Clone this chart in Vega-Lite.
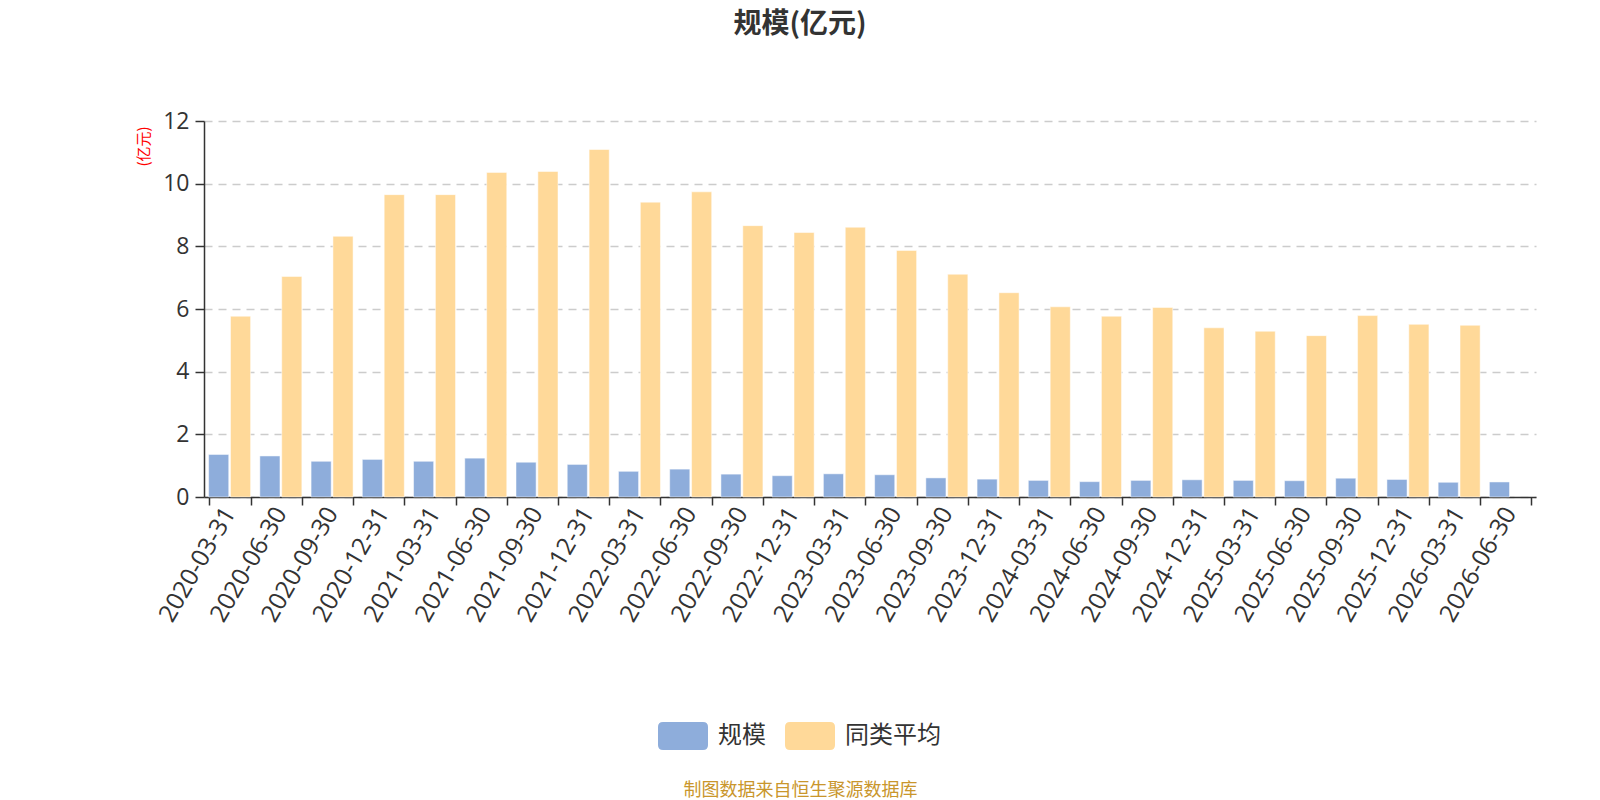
{
  "$schema": "https://vega.github.io/schema/vega-lite/v6.json",
  "width": 1332,
  "height": 376,
  "autosize": {"type": "none"},
  "padding": {"left": 204, "top": 121, "right": 64, "bottom": 303},
  "background": "white",
  "title": {
    "text": "规模(亿元)",
    "font": "Noto Sans CJK SC",
    "fontSize": 28,
    "fontWeight": "bold",
    "color": "#333333",
    "anchor": "middle",
    "frame": "group",
    "dx": -70,
    "offset": 71
  },
  "data": {
    "values": [
      {"date": "2020-03-31", "series": "规模", "value": 1.36},
      {"date": "2020-03-31", "series": "同类平均", "value": 5.77},
      {"date": "2020-06-30", "series": "规模", "value": 1.31},
      {"date": "2020-06-30", "series": "同类平均", "value": 7.04},
      {"date": "2020-09-30", "series": "规模", "value": 1.14},
      {"date": "2020-09-30", "series": "同类平均", "value": 8.32},
      {"date": "2020-12-31", "series": "规模", "value": 1.2},
      {"date": "2020-12-31", "series": "同类平均", "value": 9.65},
      {"date": "2021-03-31", "series": "规模", "value": 1.14},
      {"date": "2021-03-31", "series": "同类平均", "value": 9.65},
      {"date": "2021-06-30", "series": "规模", "value": 1.24},
      {"date": "2021-06-30", "series": "同类平均", "value": 10.36},
      {"date": "2021-09-30", "series": "规模", "value": 1.11},
      {"date": "2021-09-30", "series": "同类平均", "value": 10.39},
      {"date": "2021-12-31", "series": "规模", "value": 1.04},
      {"date": "2021-12-31", "series": "同类平均", "value": 11.09},
      {"date": "2022-03-31", "series": "规模", "value": 0.82},
      {"date": "2022-03-31", "series": "同类平均", "value": 9.41},
      {"date": "2022-06-30", "series": "规模", "value": 0.89},
      {"date": "2022-06-30", "series": "同类平均", "value": 9.74},
      {"date": "2022-09-30", "series": "规模", "value": 0.73},
      {"date": "2022-09-30", "series": "同类平均", "value": 8.66},
      {"date": "2022-12-31", "series": "规模", "value": 0.68},
      {"date": "2022-12-31", "series": "同类平均", "value": 8.44},
      {"date": "2023-03-31", "series": "规模", "value": 0.74},
      {"date": "2023-03-31", "series": "同类平均", "value": 8.61},
      {"date": "2023-06-30", "series": "规模", "value": 0.71},
      {"date": "2023-06-30", "series": "同类平均", "value": 7.87},
      {"date": "2023-09-30", "series": "规模", "value": 0.61},
      {"date": "2023-09-30", "series": "同类平均", "value": 7.11},
      {"date": "2023-12-31", "series": "规模", "value": 0.57},
      {"date": "2023-12-31", "series": "同类平均", "value": 6.52},
      {"date": "2024-03-31", "series": "规模", "value": 0.53},
      {"date": "2024-03-31", "series": "同类平均", "value": 6.07},
      {"date": "2024-06-30", "series": "规模", "value": 0.49},
      {"date": "2024-06-30", "series": "同类平均", "value": 5.77},
      {"date": "2024-09-30", "series": "规模", "value": 0.53},
      {"date": "2024-09-30", "series": "同类平均", "value": 6.05},
      {"date": "2024-12-31", "series": "规模", "value": 0.55},
      {"date": "2024-12-31", "series": "同类平均", "value": 5.4},
      {"date": "2025-03-31", "series": "规模", "value": 0.53},
      {"date": "2025-03-31", "series": "同类平均", "value": 5.29},
      {"date": "2025-06-30", "series": "规模", "value": 0.52},
      {"date": "2025-06-30", "series": "同类平均", "value": 5.15},
      {"date": "2025-09-30", "series": "规模", "value": 0.6},
      {"date": "2025-09-30", "series": "同类平均", "value": 5.79},
      {"date": "2025-12-31", "series": "规模", "value": 0.56},
      {"date": "2025-12-31", "series": "同类平均", "value": 5.51},
      {"date": "2026-03-31", "series": "规模", "value": 0.47},
      {"date": "2026-03-31", "series": "同类平均", "value": 5.48},
      {"date": "2026-06-30", "series": "规模", "value": 0.48}
    ]
  },
  "mark": {"type": "bar", "stroke": "#ffffff", "strokeWidth": 1, "strokeOpacity": 0.5},
  "encoding": {
    "x": {
      "field": "date",
      "type": "nominal",
      "sort": null,
      "scale": {"paddingInner": 0.18, "paddingOuter": 0.09},
      "axis": {
        "title": "制图数据来自恒生聚源数据库",
        "titleFont": "Noto Sans CJK SC",
        "titleFontSize": 18,
        "titleFontWeight": "normal",
        "titleColor": "#C9962C",
        "titleX": 596,
        "titleY": 293,
        "titleAlign": "center",
        "titleBaseline": "middle",
        "labelAngle": -60,
        "labelFont": "Open Sans",
        "labelFontSize": 24.5,
        "labelColor": "#333333",
        "labelPadding": 4,
        "tickBand": "extent",
        "tickSize": 8,
        "tickColor": "#333333",
        "tickWidth": 1.5,
        "domainColor": "#333333",
        "domainWidth": 1.5,
        "grid": false
      }
    },
    "xOffset": {
      "field": "series",
      "type": "nominal",
      "sort": ["规模", "同类平均"],
      "scale": {"paddingInner": 0.08, "paddingOuter": 0}
    },
    "y": {
      "field": "value",
      "type": "quantitative",
      "scale": {"domain": [0, 12], "nice": false},
      "axis": {
        "values": [0, 2, 4, 6, 8, 10, 12],
        "title": "(亿元)",
        "titleFont": "Noto Sans CJK SC",
        "titleFontSize": 15,
        "titleFontWeight": "normal",
        "titleColor": "#FF0000",
        "titleX": -61,
        "titleY": 25,
        "titleAlign": "center",
        "titleBaseline": "middle",
        "labelFont": "Open Sans",
        "labelFontSize": 23,
        "labelColor": "#333333",
        "labelPadding": 6,
        "tickSize": 9,
        "tickColor": "#333333",
        "tickWidth": 1.5,
        "domainColor": "#333333",
        "domainWidth": 1.5,
        "grid": true,
        "gridColor": "#CCCCCC",
        "gridDash": [8, 6],
        "gridWidth": 1.5
      }
    },
    "color": {
      "field": "series",
      "type": "nominal",
      "sort": ["规模", "同类平均"],
      "scale": {"domain": ["规模", "同类平均"], "range": ["#8EADDB", "#FFD999"]},
      "legend": {
        "title": null,
        "orient": "none",
        "legendX": 454,
        "legendY": 590,
        "direction": "horizontal",
        "symbolType": "M-0.8,-0.56L0.8,-0.56Q1,-0.56 1,-0.36L1,0.36Q1,0.56 0.8,0.56L-0.8,0.56Q-1,0.56 -1,0.36L-1,-0.36Q-1,-0.56 -0.8,-0.56Z",
        "symbolSize": 2500,
        "symbolStrokeWidth": 0,
        "symbolOpacity": 1,
        "labelFont": "Noto Sans CJK SC",
        "labelFontSize": 24,
        "labelColor": "#333333",
        "labelOffset": 10,
        "columnPadding": 19
      }
    }
  },
  "config": {
    "view": {"stroke": null},
    "font": "Noto Sans CJK SC"
  }
}
